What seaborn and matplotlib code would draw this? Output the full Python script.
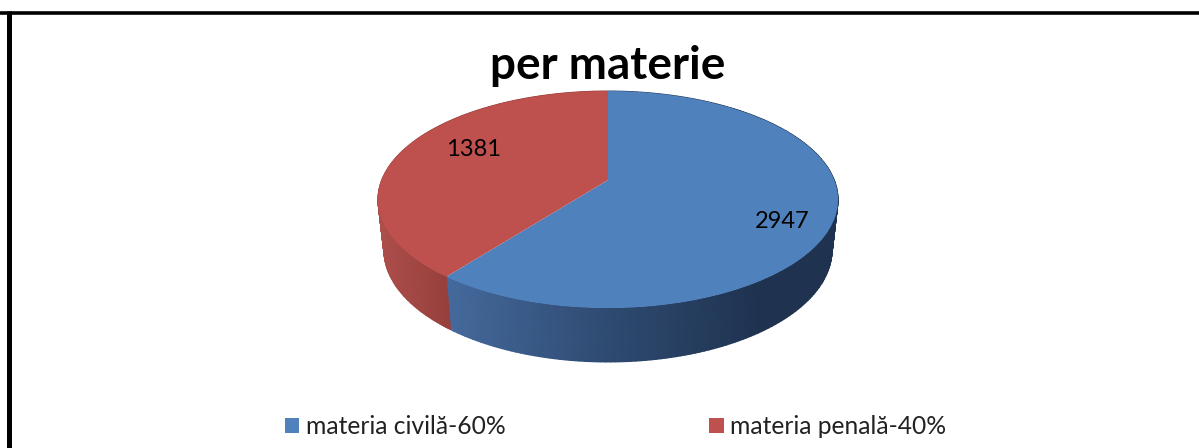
import matplotlib
matplotlib.use('Agg')
import matplotlib.pyplot as plt
import numpy as np
import seaborn as sns
from matplotlib.transforms import Transform

# values
categories = ['materia civilă-60%', 'materia penală-40%']
slice_shares = [60.5, 39.5]  # drawn size of the slices, as measured
slice_labels = ['2947', '1381']
title = 'per materie'

top_colors = ['#4F81BD', '#BE504D']
wall_colors = [['#44699C', '#2F4B72', '#1F3350'], ['#AE4F4C', '#963F3C']]
wall_ranges = [(451, 760), (380, 451)]


# tilts the flat pie so the near side looks bigger, result is in image pixels
class Tilt(Transform):
    input_dims = 2
    output_dims = 2

    def __init__(self, cx, cy, a, b, k):
        super().__init__()
        self.cx, self.cy, self.a, self.b, self.k = cx, cy, a, b, k

    def transform_non_affine(self, values):
        values = np.asarray(values)
        w = 1 + self.k * values[:, 1]
        return np.column_stack([self.cx + self.b * values[:, 0] / w,
                                self.cy - self.a * values[:, 1] / w])


sns.set_theme(style='white')
plt.rcParams['font.family'] = ['Lato', 'DejaVu Sans']

fig = plt.figure(figsize=(11.99, 4.48), dpi=100)
ax = fig.add_axes([0, 0, 1, 1])

wedges, _ = ax.pie(slice_shares, colors=top_colors, startangle=90, counterclock=False)

top_face = Tilt(608, 180, 105, 226.3, 0.18)
low_face = Tilt(608, 229.8, 108.4, 220.4, 0.18)

# --- side wall of the disc ---
for wedge, stops, (x0, x1) in zip(wedges, wall_colors, wall_ranges):
    wedge.set_transform(top_face + ax.transData)
    wedge.set_linewidth(0)
    angles = np.radians(np.linspace(wedge.theta1, wedge.theta2, 200))
    rim = np.column_stack([np.cos(angles), np.sin(angles)])
    upper = top_face.transform(rim)
    lower = low_face.transform(rim)
    xs = np.vstack([upper[:, 0], lower[:, 0]])
    ys = np.vstack([upper[:, 1], lower[:, 1]])
    ax.pcolormesh(xs, ys, xs, shading='gouraud', zorder=0.5, vmin=x0, vmax=x1,
                  cmap=sns.blend_palette(stops, as_cmap=True))

ax.set_aspect('auto')
ax.set_xlim(0, 1199)
ax.set_ylim(448, 0)
ax.set_axis_off()

# --- texts ---
ax.text(607.5, 79, title, ha='center', va='baseline', fontsize=33, fontweight='bold', color='black')
ax.text(782, 222, slice_labels[0], ha='center', va='center', fontsize=17, color='black')
ax.text(474, 149, slice_labels[1], ha='center', va='center', fontsize=17, color='black')

leg = ax.legend(wedges, categories, ncol=2, loc='center', bbox_to_anchor=(0.5134, 0.048),
                frameon=False, fontsize=17.7, handlelength=0.6, handleheight=0.6,
                handletextpad=0.25, columnspacing=8.3)
for t in leg.get_texts():
    t.set_color('#222222')

# --- outer frame, only top and left ---
ax.axhline(12.7, color='black', lw=2.6, zorder=5, solid_capstyle='butt')
ax.axvline(8.5, color='black', lw=3.6, ymax=1 - 11 / 448, zorder=5, solid_capstyle='butt')

fig.savefig('out.png', dpi=100)
